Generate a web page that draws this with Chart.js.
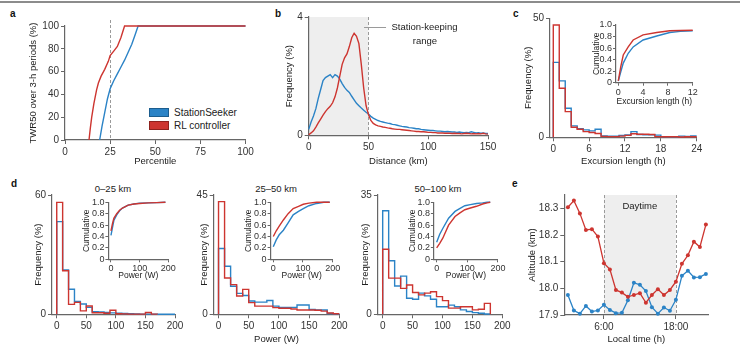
<!DOCTYPE html>
<html>
<head>
<meta charset="utf-8">
<script src="https://cdn.jsdelivr.net/npm/chart.js@4.4.0/dist/chart.umd.min.js"></script>
<style>
  html, body { margin: 0; background: #fff; }
  body { position: relative; width: 740px; height: 354px; overflow: hidden; font-family: "Liberation Sans", Arial, sans-serif; }
  canvas { position: absolute; }
  .rule { position: absolute; left: 0; top: 1px; width: 740px; height: 2px; background: #8c8c8c; }
  .lbl { position: absolute; font-weight: bold; font-size: 10px; line-height: 10px; color: #111; }
  .ttl { position: absolute; font-size: 9.5px; line-height: 11px; color: #222; transform: translateX(-50%); white-space: nowrap; }
  .lg { position: absolute; font-size: 10px; line-height: 10px; color: #222; white-space: nowrap; }
  .lg i { display: inline-block; width: 18px; height: 7px; border: 1px solid; vertical-align: -1px; margin-right: 5px; }
</style>
</head>
<body>
<div class="rule"></div>
<div class="lbl" style="left:10px;top:9px">a</div>
<div class="lbl" style="left:275px;top:9px">b</div>
<div class="lbl" style="left:513px;top:9px">c</div>
<div class="lbl" style="left:11px;top:179px">d</div>
<div class="lbl" style="left:512px;top:179px">e</div>
<div class="ttl" style="left:113px;top:183px">0–25 km</div>
<div class="ttl" style="left:276px;top:183px">25–50 km</div>
<div class="ttl" style="left:438px;top:183px">50–100 km</div>
<div class="lg" style="left:149px;top:108px"><i style="background:#2b83c6;border-color:#1c5d8e"></i>StationSeeker</div>
<div class="lg" style="left:149px;top:121px"><i style="background:#cd3530;border-color:#8e221e"></i>RL controller</div>

<script>
// ---------- data ----------
// a: TWR50 vs percentile
const aBlueX = [19.2, 20.5, 22, 23.5, 25, 27, 29, 31, 33, 35, 37, 39, 40.5, 100]
const aBlueY = [0, 12, 24, 36, 45, 52, 58, 64, 70, 77, 84, 93, 100, 100]
const aRedX = [13.3, 14, 14.8, 16, 17.5, 18.5, 20, 22, 24, 25, 27, 29, 31, 33, 100]
const aRedY = [0, 10, 20, 32, 44, 50, 56, 62, 69, 74, 78, 82, 90, 100, 100]

// b: distance distribution, 2 km bins
const distKm = Array.from({length: 76}, (_, i) => i * 2)
const bBlue = [0.2, 0.45, 0.65, 0.9, 1.25, 1.55, 1.85, 1.95, 2.0, 2.05, 1.95, 2.05, 2.0, 1.9, 1.75, 1.62, 1.52, 1.45, 1.32, 1.2,
  1.08, 1.0, 0.92, 0.85, 0.78, 0.72, 0.64, 0.58, 0.54, 0.5, 0.47, 0.45, 0.43, 0.41, 0.4, 0.37, 0.36, 0.34, 0.32, 0.3,
  0.29, 0.28, 0.26, 0.25, 0.24, 0.22, 0.22, 0.2, 0.19, 0.18, 0.17, 0.16, 0.16, 0.15, 0.14, 0.14, 0.13, 0.12, 0.13, 0.12,
  0.11, 0.11, 0.1, 0.11, 0.1, 0.09, 0.1, 0.09, 0.12, 0.1, 0.08, 0.09, 0.07, 0.08, 0.06, 0.06]
const bRed = [0.02, 0.08, 0.15, 0.28, 0.42, 0.55, 0.68, 0.8, 0.9, 0.98, 1.1, 1.3, 1.6, 2.0, 2.4, 2.62, 2.75, 3.0, 3.3, 3.45,
  3.35, 3.1, 2.4, 1.6, 1.0, 0.7, 0.5, 0.4, 0.35, 0.32, 0.3, 0.28, 0.27, 0.25, 0.24, 0.22, 0.21, 0.2, 0.2, 0.19,
  0.18, 0.17, 0.16, 0.15, 0.14, 0.13, 0.13, 0.12, 0.12, 0.11, 0.1, 0.1, 0.09, 0.09, 0.08, 0.08, 0.08, 0.07, 0.07, 0.07,
  0.06, 0.07, 0.06, 0.06, 0.05, 0.06, 0.07, 0.06, 0.05, 0.06, 0.05, 0.06, 0.05, 0.07, 0.05, 0.04]

// c: excursion length histogram, 1 h bins, and cumulative inset
const cRed = [47.2, 20.6, 10.8, 4.2, 3.4, 2.4, 2.0, 1.6, 0.4, 0.3, 0.3, 0.5, 0.8, 1.5, 1.3, 1.3, 1.2, 0.3, 0.2, 0.2, 0.2, 0.1, 0.2, 0.2]
const cBlue = [31.5, 23.7, 12.2, 4.8, 3.6, 3.1, 2.7, 3.4, 0.6, 0.5, 0.5, 0.8, 1.0, 2.4, 1.2, 1.0, 1.0, 0.9, 0.3, 0.2, 0.2, 0.5, 0.4, 0.6]
const cCumHours = [0, 0.4, 0.8, 1.6, 2.4, 4, 6.2, 8.3, 10, 12]
const cCumRed = [0.03, 0.28, 0.48, 0.62, 0.74, 0.83, 0.87, 0.9, 0.905, 0.91]
const cCumBlue = [0.03, 0.19, 0.34, 0.51, 0.62, 0.74, 0.81, 0.87, 0.89, 0.9]

// d: power histograms, 10 W bins, and cumulative insets
const d1Red = [56.3, 21.9, 5.0, 6.0, 1.7, 4.2, 0.8, 0.8, 0.5, 2.0, 0.3, 0.2, 0.1, 0.1, 0.1, 0.9, 0.1, 0, 0, 0]
const d1Blue = [46.6, 22.3, 12.6, 6.4, 5.2, 3.5, 1.3, 1.2, 0.9, 0.7, 0.5, 0.4, 0.3, 0.2, 0.1, 0.1, 0.05, 0.05, 0.05, 0.05]
const d2Red = [42.5, 13.7, 11.2, 6.9, 9.4, 4.4, 3.1, 3.1, 3.1, 2.5, 2.3, 2.3, 2.0, 1.6, 1.6, 1.6, 1.5, 1.2, 0.5, 0.2]
const d2Blue = [24.8, 18.1, 10.6, 7.9, 7.1, 5.0, 4.6, 4.6, 5.2, 3.1, 2.6, 2.6, 2.6, 3.5, 3.5, 1.8, 1.6, 1.6, 0.3, 0.1]
const d3Red = [19.1, 10.6, 10.6, 7.6, 8.6, 6.4, 5.7, 6.2, 6.6, 5.2, 4.0, 1.8, 1.8, 2.2, 2.2, 1.3, 1.5, 3.2, 0, 0]
const d3Blue = [30.4, 15.7, 8.3, 11.2, 4.7, 4.4, 6.2, 5.4, 4.4, 2.2, 2.2, 2.7, 2.2, 1.3, 0.8, 0.5, 0.3, 0.1, 0, 0]
const d1W = [0, 5, 10, 20, 30, 40, 60, 80, 100, 130, 160, 190]
const d1CumRed = [0.5, 0.62, 0.72, 0.8, 0.86, 0.9, 0.95, 0.97, 0.98, 0.99, 0.995, 1.0]
const d1CumBlue = [0.42, 0.55, 0.68, 0.78, 0.85, 0.9, 0.95, 0.97, 0.985, 0.99, 0.995, 1.0]
const d2W = [0, 10, 20, 34, 50, 67, 85, 101, 120, 146, 170, 190]
const d2CumRed = [0.4, 0.5, 0.58, 0.69, 0.8, 0.89, 0.93, 0.965, 0.985, 1.0, 1.0, 1.0]
const d2CumBlue = [0.22, 0.34, 0.43, 0.51, 0.64, 0.78, 0.84, 0.89, 0.94, 0.98, 1.0, 1.0]
const d3W = [0, 10, 20, 39, 60, 75, 92, 110, 130, 150, 165, 175]
const d3CumRed = [0.2, 0.28, 0.37, 0.6, 0.75, 0.81, 0.87, 0.9, 0.93, 0.97, 0.99, 1.0]
const d3CumBlue = [0.3, 0.44, 0.54, 0.72, 0.84, 0.89, 0.94, 0.96, 0.98, 0.99, 1.0, 1.0]

// e: mean altitude by local hour
const hours = [0, 1, 2, 3, 4, 5, 6, 7, 8, 9, 10, 11, 12, 13, 14, 15, 16, 17, 18, 19, 20, 21, 22, 23]
const eRed = [18.304, 18.329, 18.281, 18.219, 18.222, 18.194, 18.094, 18.071, 17.994, 17.984, 17.968, 17.975,
  17.982, 17.946, 17.975, 17.997, 17.975, 17.994, 18.025, 18.092, 18.124, 18.175, 18.155, 18.239]
const eBlue = [17.975, 17.917, 17.905, 17.934, 17.913, 17.917, 17.938, 17.919, 17.907, 17.908, 17.955, 18.021,
  18.013, 17.99, 17.929, 17.905, 17.928, 17.916, 17.957, 18.047, 18.066, 18.041, 18.042, 18.054]

const BLUE = '#2b83c6', RED = '#cd3530'

Chart.defaults.font.family = '"Liberation Sans", Arial, sans-serif'
Chart.defaults.color = '#333'
Chart.defaults.animation = false

// ---------- helpers ----------
function pairs(xs, ys) { return xs.map((x, i) => ({x: x, y: ys[i]})) }

// histogram outline from bin values, stops after the last non-empty bin
function hist(vals, w) {
  let last = vals.length - 1
  while (last > 0 && vals[last] === 0) last--
  const pts = [{x: 0, y: 0}]
  vals.slice(0, last + 1).forEach((v, i) => { pts.push({x: i * w, y: v}, {x: (i + 1) * w, y: v}) })
  if (last < vals.length - 1) pts.push({x: (last + 1) * w, y: 0})
  return pts
}

function line(data, color, extra) {
  return Object.assign({data: data, borderColor: color, backgroundColor: color, borderWidth: 1.4,
    pointRadius: 0, tension: 0, clip: false}, extra || {})
}

function extrasPlugin(o) {
  return {
    id: 'extras',
    beforeDraw(c) {
      const {ctx, chartArea: ca, scales: {x}} = c
      ;(o.bands || []).forEach(b => {
        const x0 = x.getPixelForValue(b[0]), x1 = x.getPixelForValue(b[1])
        ctx.fillStyle = '#eeeeee'
        ctx.fillRect(x0, ca.top, x1 - x0, ca.bottom - ca.top)
      })
    },
    beforeDatasetsDraw(c) {
      const {ctx, chartArea: ca, scales: {x, y}} = c
      ctx.save()
      ctx.strokeStyle = '#9a9a9a'
      ctx.lineWidth = 1
      ctx.setLineDash([3, 2])
      ;(o.dashes || []).forEach(v => {
        const px = Math.round(x.getPixelForValue(v)) + 0.5
        ctx.beginPath()
        ctx.moveTo(px, ca.top - (o.dashOver || 0))
        ctx.lineTo(px, ca.bottom)
        ctx.stroke()
      })
      ctx.setLineDash([])
      ;(o.leaders || []).forEach(l => {
        const py = Math.round(y.getPixelForValue(l[2])) + 0.5
        ctx.beginPath()
        ctx.moveTo(x.getPixelForValue(l[0]), py)
        ctx.lineTo(x.getPixelForValue(l[1]), py)
        ctx.stroke()
      })
      ctx.restore()
    },
    afterDraw(c) {
      const {ctx, scales: {x, y}} = c
      ctx.save()
      ctx.fillStyle = '#222'
      ctx.font = '9.5px "Liberation Sans", Arial, sans-serif'
      ctx.textAlign = 'center'
      ctx.textBaseline = 'middle'
      ;(o.texts || []).forEach(t => ctx.fillText(t[0], x.getPixelForValue(t[1]), y.getPixelForValue(t[2])))
      ctx.restore()
    }
  }
}

function plot(p) {
  const fs = p.fs || 9.5, tfs = p.tfs || 10
  const tl = p.tl || 4, tp = p.tp === undefined ? 2 : p.tp
  const lh = fs * 1.2
  const box = p.box
  const cl = Math.round(p.yTitleX - 10), ct = Math.round(box.t - 8)
  const cw = Math.round(box.r + 15 - cl)
  const ch = Math.round((p.xTitleY ? p.xTitleY + 8 : box.b + 22) - ct)
  const L = box.l - cl, T = box.t - ct, R = cw - (box.r - cl), B = ch - (box.b - ct)

  const cv = document.createElement('canvas')
  cv.width = cw
  cv.height = ch
  cv.style.left = cl + 'px'
  cv.style.top = ct + 'px'
  document.body.appendChild(cv)

  const axis = (range, ticks, fmt, title, pad, fit) => ({
    type: 'linear', min: range[0], max: range[1],
    afterBuildTicks: s => { s.ticks = ticks.map(v => ({value: v})) },
    ticks: {autoSkip: false, maxRotation: 0, padding: tp, font: {size: tfs}, color: '#333',
      callback: v => fmt ? fmt(v) : String(v)},
    grid: {drawOnChartArea: false, color: '#666', tickLength: tl, lineWidth: 1},
    border: {color: '#666', width: 1.2},
    title: {display: !!title, text: title || '', font: {size: fs}, color: '#222', padding: pad},
    afterFit: fit
  })

  const padY = p.yTitleX - cl - lh / 2
  const padX = p.xTitleY ? ch - lh / 2 - (p.xTitleY - ct) : 0

  return new Chart(cv, {
    type: 'line',
    data: {datasets: p.datasets},
    options: {
      responsive: false,
      devicePixelRatio: 1,
      events: [],
      layout: {padding: {left: 0, top: T, right: R, bottom: 0}},
      plugins: {legend: {display: false}, tooltip: {enabled: false}},
      scales: {
        x: axis(p.xr, p.xt, p.xf, p.xTitle, {top: 0, bottom: padX}, s => { s.height = B }),
        y: axis(p.yr, p.yt, p.yf, p.yTitle, {top: padY, bottom: 0}, s => { s.width = L })
      }
    },
    plugins: [extrasPlugin(p.extras || {})]
  })
}

const frac = v => v === 0 ? '0' : v.toFixed(1)
const cumTicks = [0, 0.2, 0.4, 0.6, 0.8, 1.0]
const powerTicks = [0, 50, 100, 150, 200]

// ---------- a ----------
plot({
  box: {l: 65, r: 245.5, t: 25.7, b: 140},
  xr: [0, 100], yr: [0, 100], xt: [0, 25, 50, 75, 100], yt: [0, 20, 40, 60, 80, 100],
  xTitle: 'Percentile', xTitleY: 161.5, yTitle: 'TWR50 over 3-h periods (%)', yTitleX: 33,
  extras: {dashes: [25], dashOver: 6},
  datasets: [line(pairs(aRedX, aRedY), RED), line(pairs(aBlueX, aBlueY), BLUE)]
})

// ---------- b ----------
plot({
  box: {l: 308.7, r: 488, t: 16.7, b: 135.3},
  xr: [0, 150], yr: [0, 4], xt: [0, 50, 100, 150], yt: [0, 4],
  xTitle: 'Distance (km)', xTitleY: 161.5, yTitle: 'Frequency (%)', yTitleX: 289.3,
  extras: {bands: [[0, 50]], dashes: [50], leaders: [[46.3, 64.7, 3.65]],
    texts: [['Station-keeping', 96.9, 3.65], ['range', 97.3, 3.18]]},
  datasets: [line(pairs(distKm, bRed), RED), line(pairs(distKm, bBlue), BLUE)]
})

// ---------- c ----------
plot({
  box: {l: 550, r: 696.7, t: 18.3, b: 137.3},
  xr: [-0.55, 24], yr: [0, 50], xt: [0, 6, 12, 18, 24], yt: [0, 50],
  xTitle: 'Excursion length (h)', xTitleY: 161.5, yTitle: 'Frequency (%)', yTitleX: 528.3,
  datasets: [line(hist(cRed, 1), RED), line(hist(cBlue, 1), BLUE)]
})
plot({
  box: {l: 616, r: 692.7, t: 25, b: 82.7}, fs: 8.5, tfs: 9, tl: 3, tp: 1,
  xr: [-0.37, 12], yr: [0, 1], xt: [0, 4, 8, 12], yt: cumTicks, yf: frac,
  xTitle: 'Excursion length (h)', xTitleY: 101.7, yTitle: 'Cumulative', yTitleX: 596.5,
  datasets: [line(pairs(cCumHours, cCumRed), RED), line(pairs(cCumHours, cCumBlue), BLUE)]
})

// ---------- d ----------
const dMain = [
  {box: {l: 52, r: 175}, max: 60, red: d1Red, blue: d1Blue, yTitleX: 38.3},
  {box: {l: 213.7, r: 339.3}, max: 45, red: d2Red, blue: d2Blue, yTitleX: 204, xTitle: 'Power (W)', xTitleY: 339.3},
  {box: {l: 377.9, r: 502.3}, max: 35, red: d3Red, blue: d3Blue, yTitleX: 365}
]
dMain.forEach(d => plot({
  box: {l: d.box.l, r: d.box.r, t: 195, b: 314.3},
  xr: [-8, 200], yr: [0, d.max], xt: powerTicks, yt: [0, d.max],
  xTitle: d.xTitle, xTitleY: d.xTitleY, yTitle: 'Frequency (%)', yTitleX: d.yTitleX,
  datasets: [line(hist(d.red, 10), RED), line(hist(d.blue, 10), BLUE)]
}))

const dInset = [
  {box: {l: 108.4, r: 168.3}, w: d1W, red: d1CumRed, blue: d1CumBlue, yTitleX: 86.5},
  {box: {l: 270.6, r: 332.7}, w: d2W, red: d2CumRed, blue: d2CumBlue, yTitleX: 249},
  {box: {l: 433.9, r: 497.9}, w: d3W, red: d3CumRed, blue: d3CumBlue, yTitleX: 412.5}
]
dInset.forEach(d => plot({
  box: {l: d.box.l, r: d.box.r, t: 202.3, b: 259.3}, fs: 8.5, tfs: 9, tl: 3, tp: 1,
  xr: [-9, 200], yr: [0, 1], xt: [0, 100, 200], yt: cumTicks, yf: frac,
  xTitle: 'Power (W)', xTitleY: 276, yTitle: 'Cumulative', yTitleX: d.yTitleX,
  datasets: [line(pairs(d.w, d.red), RED), line(pairs(d.w, d.blue), BLUE)]
}))

// ---------- e ----------
const dot = {pointRadius: 2, pointBorderWidth: 0, borderWidth: 1.3}
plot({
  box: {l: 564.3, r: 708.3, t: 195, b: 315},
  xr: [-0.6, 23.4], yr: [17.9, 18.35], xt: [6, 18], yt: [17.9, 18.0, 18.1, 18.2, 18.3],
  xf: v => v + ':00', yf: v => v.toFixed(1),
  xTitle: 'Local time (h)', xTitleY: 339.3, yTitle: 'Altitude (km)', yTitleX: 532.3,
  extras: {bands: [[6, 18]], dashes: [6, 18], texts: [['Daytime', 12, 18.309]]},
  datasets: [line(pairs(hours, eRed), RED, dot), line(pairs(hours, eBlue), BLUE, dot)]
})
</script>
</body>
</html>
